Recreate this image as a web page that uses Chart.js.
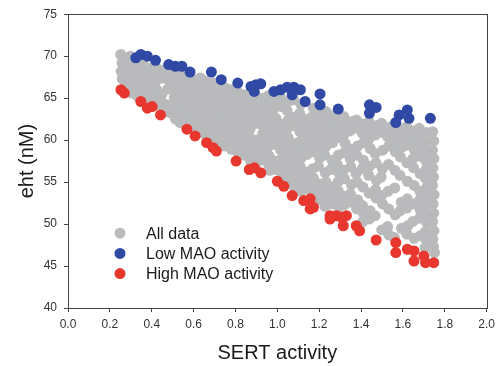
<!DOCTYPE html>
<html>
<head>
<meta charset="utf-8">
<script src="https://cdn.jsdelivr.net/npm/chart.js@4.4.1/dist/chart.umd.min.js"></script>
<style>
  html, body { margin: 0; padding: 0; background: #ffffff; }
  #wrap { width: 500px; height: 366px; }
</style>
</head>
<body>
<div id="wrap"><canvas id="scatter"></canvas></div>
<script>
// series labels
const seriesNames = ["All data", "Low MAO activity", "High MAO activity"];

// All data (grey), [SERT activity, eht nM]
const allData = [
  [0.252,70.2],[0.258,69.2],[0.254,68.2],[0.259,67.3],
  [0.276,69.7],[0.272,68.7],[0.279,67.7],[0.274,66.8],
  [0.298,70.0],[0.303,69.0],[0.297,68.1],[0.304,67.2],[0.299,66.3],[0.305,65.6],
  [0.331,68.9],[0.327,67.9],[0.334,67.0],[0.329,66.1],[0.333,65.2],
  [0.358,69.0],[0.364,68.1],[0.357,67.2],[0.362,66.3],[0.359,65.4],
  [0.392,68.6],[0.387,67.7],[0.394,66.8],[0.388,65.8],[0.393,64.9],
  [0.418,68.8],[0.423,67.9],[0.417,66.9],[0.424,66.0],[0.419,65.1],[0.422,64.2],
  [0.452,68.3],[0.447,67.4],[0.449,65.5],[0.446,64.6],[0.453,63.8],
  [0.478,68.0],[0.483,67.1],[0.477,66.1],[0.479,64.2],[0.484,63.3],
  [0.512,67.9],[0.507,67.0],[0.513,66.0],[0.508,65.1],[0.511,64.1],[0.506,63.2],[0.514,62.5],
  [0.538,67.7],[0.543,66.6],[0.537,65.6],[0.544,64.7],[0.539,63.8],[0.542,62.8],[0.536,62.1],
  [0.572,67.6],[0.567,66.6],[0.573,65.7],[0.568,64.6],[0.571,63.6],[0.566,62.7],[0.574,61.9],
  [0.598,67.2],[0.603,66.2],[0.597,65.3],[0.604,64.4],[0.599,63.4],[0.602,62.4],[0.601,61.5],
  [0.632,67.4],[0.627,66.5],[0.633,65.5],[0.628,64.5],[0.631,63.5],[0.626,62.6],[0.634,61.7],[0.629,60.9],
  [0.658,67.0],[0.663,66.0],[0.657,65.0],[0.664,64.0],[0.659,63.1],[0.662,62.1],[0.656,61.2],[0.661,60.5],
  [0.692,66.8],[0.687,65.8],[0.693,64.8],[0.688,63.8],[0.691,62.9],[0.686,61.9],[0.694,61.0],[0.689,60.1],
  [0.718,66.4],[0.723,65.5],[0.717,64.5],[0.724,63.5],[0.719,62.5],[0.722,61.5],[0.716,60.6],[0.721,59.7],
  [0.752,66.2],[0.747,65.2],[0.753,64.1],[0.748,63.2],[0.751,62.2],[0.746,61.2],[0.754,60.2],[0.749,59.3],
  [0.778,66.0],[0.783,65.0],[0.777,64.0],[0.784,63.0],[0.779,61.9],[0.782,60.9],[0.776,59.9],[0.781,58.9],
  [0.812,65.7],[0.807,64.8],[0.813,63.7],[0.808,62.6],[0.811,61.6],[0.806,60.6],[0.814,59.6],[0.809,58.6],
  [0.838,65.4],[0.843,64.4],[0.837,63.3],[0.844,62.3],[0.839,61.3],[0.842,60.2],[0.836,59.2],[0.841,58.2],
  [0.872,65.6],[0.867,64.6],[0.873,63.6],[0.868,62.5],[0.871,61.4],[0.866,60.4],[0.874,59.4],[0.869,58.4],[0.872,57.5],
  [0.898,65.2],[0.903,64.0],[0.897,63.1],[0.904,62.0],[0.902,60.0],[0.896,59.0],[0.901,58.0],[0.899,57.2],
  [0.932,65.0],[0.927,64.1],[0.933,62.9],[0.928,61.8],[0.931,60.8],[0.926,59.7],[0.934,58.7],[0.929,57.7],
  [0.958,65.3],[0.963,64.3],[0.957,63.3],[0.964,62.2],[0.959,61.2],[0.962,60.3],[0.956,59.2],[0.961,58.1],[0.958,57.1],[0.963,56.4],
  [0.992,64.9],[0.987,63.8],[0.993,62.6],[0.988,61.6],[0.991,60.5],[0.986,59.5],[0.989,57.5],[0.994,56.5],
  [1.018,65.0],[1.023,64.0],[1.024,61.9],[1.019,60.8],[1.022,59.8],[1.016,58.8],[1.021,57.8],[1.017,56.8],[1.024,55.9],
  [1.052,64.6],[1.047,63.5],[1.053,62.4],[1.048,61.4],[1.051,60.3],[1.046,59.2],[1.054,58.2],[1.049,57.1],[1.052,56.1],[1.047,55.1],
  [1.078,64.8],[1.077,62.7],[1.084,61.7],[1.082,59.6],[1.076,58.6],[1.081,57.5],[1.079,56.5],[1.083,55.4],[1.078,54.5],
  [1.112,64.3],[1.107,63.2],[1.113,62.1],[1.108,61.0],[1.111,59.9],[1.106,58.9],[1.114,57.9],[1.109,56.9],[1.112,55.8],[1.107,54.8],[1.113,53.9],
  [1.143,62.5],[1.137,61.4],[1.144,60.4],[1.139,59.3],[1.142,58.3],[1.141,56.2],[1.138,55.1],[1.143,54.2],
  [1.172,63.8],[1.167,62.8],[1.173,61.7],[1.168,60.7],[1.171,59.6],[1.166,58.6],[1.169,56.6],[1.172,55.5],[1.167,54.5],[1.173,53.5],
  [1.198,63.1],[1.203,62.1],[1.197,61.1],[1.204,60.0],[1.199,58.9],[1.202,57.9],[1.196,56.9],[1.198,54.8],[1.203,53.8],[1.199,52.9],
  [1.232,63.4],[1.227,62.3],[1.233,61.3],[1.228,60.3],[1.231,59.2],[1.226,58.2],[1.229,56.1],[1.232,55.0],[1.227,54.0],[1.233,53.0],[1.228,52.1],
  [1.258,62.9],[1.263,61.8],[1.257,60.8],[1.264,59.7],[1.262,57.6],[1.256,56.5],[1.261,54.4],[1.258,53.4],[1.263,52.4],
  [1.292,62.5],[1.287,61.4],[1.293,60.3],[1.291,58.2],[1.286,57.1],[1.294,56.1],[1.289,55.0],[1.292,53.9],[1.287,52.9],[1.293,52.0],
  [1.318,62.8],[1.323,61.7],[1.317,60.6],[1.324,59.6],[1.319,58.5],[1.316,56.4],[1.321,55.4],[1.323,53.3],[1.319,52.3],
  [1.352,62.2],[1.347,61.1],[1.353,58.9],[1.348,57.8],[1.351,56.8],[1.354,54.7],[1.349,53.6],[1.352,52.6],
  [1.378,62.4],[1.383,61.4],[1.384,59.3],[1.379,58.2],[1.376,56.0],[1.381,55.0],[1.383,52.9],[1.379,51.8],
  [1.412,61.9],[1.407,60.8],[1.413,59.7],[1.411,57.6],[1.406,56.6],[1.409,54.4],[1.407,52.2],[1.413,51.2],[1.408,50.3],
  [1.438,62.2],[1.443,61.1],[1.437,60.1],[1.444,59.0],[1.442,56.9],[1.436,55.8],[1.438,53.7],[1.443,51.6],[1.439,50.6],
  [1.472,61.7],[1.467,60.6],[1.468,58.4],[1.471,57.3],[1.474,55.2],[1.469,54.1],[1.472,53.1],[1.467,51.0],
  [1.498,62.0],[1.503,60.9],[1.504,58.8],[1.502,56.6],[1.496,55.6],[1.498,53.4],[1.503,52.4],[1.499,49.3],
  [1.532,61.5],[1.527,60.4],[1.533,59.3],[1.531,57.1],[1.529,53.9],[1.532,51.8],[1.527,49.7],[1.533,48.7],
  [1.558,61.8],[1.563,60.7],[1.557,59.6],[1.564,58.6],[1.562,56.4],[1.561,54.3],[1.563,51.1],[1.559,48.4],
  [1.592,61.3],[1.587,60.2],[1.593,59.1],[1.588,58.0],[1.586,55.8],[1.592,52.6],[1.587,51.6],[1.593,49.5],
  [1.618,61.6],[1.623,60.5],[1.617,59.4],[1.619,57.3],[1.621,55.1],[1.621,53.0],[1.618,51.9],[1.623,49.8],[1.619,48.8],
  [1.652,61.1],[1.647,60.0],[1.653,58.9],[1.648,57.8],[1.651,56.7],[1.654,54.6],[1.652,52.4],[1.647,50.3],[1.653,48.3],
  [1.678,61.4],[1.683,60.3],[1.677,59.2],[1.684,58.1],[1.682,56.0],[1.681,53.9],[1.678,52.8],[1.683,51.7],[1.679,50.7],[1.682,48.6],
  [1.712,60.9],[1.707,59.8],[1.713,58.7],[1.708,57.6],[1.711,56.5],[1.706,55.5],[1.714,54.4],[1.709,53.3],[1.712,52.3],[1.707,51.2],[1.713,50.2],[1.708,49.1],[1.711,48.1],[1.706,47.2],
  [1.742,61.0],[1.747,59.9],[1.741,58.8],[1.748,57.8],[1.743,56.7],[1.746,55.6],[1.741,54.6],[1.749,53.5],[1.744,52.4],[1.747,51.3],[1.742,50.3],[1.748,49.2],[1.743,48.2],[1.746,47.3],[1.751,46.6]
];

// Low MAO activity (blue)
const lowMao = [
  [0.324,69.8],[0.348,70.2],[0.379,70.0],[0.418,69.5],[0.481,69.0],[0.513,68.8],[0.544,68.8],
  [0.583,68.1],[0.685,68.1],[0.732,67.2],[0.811,66.8],[0.874,66.4],[0.898,66.6],[0.921,66.7],
  [0.890,65.8],[0.984,65.8],[1.016,66.0],[1.047,66.3],[1.079,66.3],[1.110,66.0],[1.071,65.4],
  [1.133,64.6],[1.204,65.5],[1.204,64.2],[1.291,63.7],[1.440,64.2],[1.472,63.9],[1.440,63.2],
  [1.582,63.0],[1.621,63.6],[1.629,62.6],[1.566,62.1],[1.731,62.6]
];

// High MAO activity (red)
const highMao = [
  [0.253,66.0],[0.269,65.6],[0.348,64.6],[0.379,63.8],[0.402,64.0],[0.442,63.0],[0.568,61.3],
  [0.607,60.5],[0.662,59.7],[0.693,59.1],[0.709,58.7],[0.803,57.5],[0.866,56.5],[0.890,56.7],
  [0.921,56.1],[1.000,55.1],[1.031,54.5],[1.071,53.4],[1.126,52.8],[1.157,53.0],[1.173,52.0],
  [1.157,51.8],[1.252,51.0],[1.283,51.0],[1.330,51.0],[1.252,50.6],[1.307,50.8],[1.315,49.8],
  [1.377,49.8],[1.393,49.2],[1.472,48.1],[1.566,47.8],[1.566,46.6],[1.621,47.0],[1.653,46.8],
  [1.653,45.6],[1.700,46.2],[1.708,45.4],[1.747,45.4]
];

const grey = "#b9babc", blue = "#3049a5", red = "#e8372e";
const axisColor = "#444444";
const fontFamily = "'Liberation Sans', Arial, sans-serif";

function toPoints(list){
    return list.map(p => ({x: p[0], y: p[1]}));
}

// frame round the plot and the legend inside it
const frameAndLegend = {
    id: "frameAndLegend",
    afterDraw(chart){
        const ctx = chart.ctx, a = chart.chartArea;
        ctx.save();
        ctx.strokeStyle = axisColor;
        ctx.lineWidth = 1;
        ctx.strokeRect(Math.round(a.left) + 0.5, Math.round(a.top) + 0.5,
                       Math.round(a.right - a.left), Math.round(a.bottom - a.top));
        ctx.font = "16px " + fontFamily;
        ctx.textBaseline = "middle";
        chart.data.datasets.forEach((ds, i) => {
            const y = a.top + 219 + i * 20.2;
            ctx.fillStyle = ds.backgroundColor;
            ctx.beginPath();
            ctx.arc(a.left + 52, y, 5.5, 0, Math.PI * 2);
            ctx.fill();
            ctx.fillStyle = "#1a1a1a";
            ctx.fillText(ds.label, a.left + 78, y + 1);
        });
        ctx.restore();
    }
};

var config = {
    type: "scatter",
    data: {
        datasets: [
            { label: seriesNames[0], data: toPoints(allData), backgroundColor: grey, order: 1 },
            { label: seriesNames[1], data: toPoints(lowMao), backgroundColor: blue, order: 0 },
            { label: seriesNames[2], data: toPoints(highMao), backgroundColor: red, order: 0 }
        ]
    },
    options: {
        responsive: true,
        maintainAspectRatio: false,
        animation: false,
        layout: { padding: { top: 12, right: 8, left: 0, bottom: 0 } },
        elements: { point: { radius: 5.5, borderWidth: 0, hoverRadius: 5.5 } },
        plugins: {
            legend: { display: false },
            tooltip: { enabled: false }
        },
        scales: {
            x: {
                type: "linear",
                min: 0, max: 2,
                afterFit: scale => { scale.height = 58; },
                border: { display: true, color: axisColor },
                grid: { drawOnChartArea: false, drawTicks: true, tickLength: 4, color: axisColor },
                ticks: {
                    stepSize: 0.2,
                    padding: 5,
                    color: "#333333",
                    font: { family: fontFamily, size: 12 },
                    callback: v => v.toFixed(1)
                },
                title: {
                    display: true,
                    text: "SERT activity",
                    color: "#1a1a1a",
                    font: { family: fontFamily, size: 20 },
                    padding: { top: 0, bottom: 1 }
                }
            },
            y: {
                type: "linear",
                min: 40, max: 75,
                afterFit: scale => { scale.width = 68; },
                border: { display: true, color: axisColor },
                grid: { drawOnChartArea: false, drawTicks: true, tickLength: 4, color: axisColor },
                ticks: {
                    stepSize: 5,
                    padding: 7,
                    color: "#333333",
                    font: { family: fontFamily, size: 12 }
                },
                title: {
                    display: true,
                    text: "eht (nM)",
                    color: "#1a1a1a",
                    font: { family: fontFamily, size: 20 },
                    padding: { top: 15, bottom: 0 }
                }
            }
        }
    },
    plugins: [frameAndLegend]
};

var canvasElement = document.getElementById("scatter");
window.myScatter = new Chart(canvasElement, config);
</script>
</body>
</html>
